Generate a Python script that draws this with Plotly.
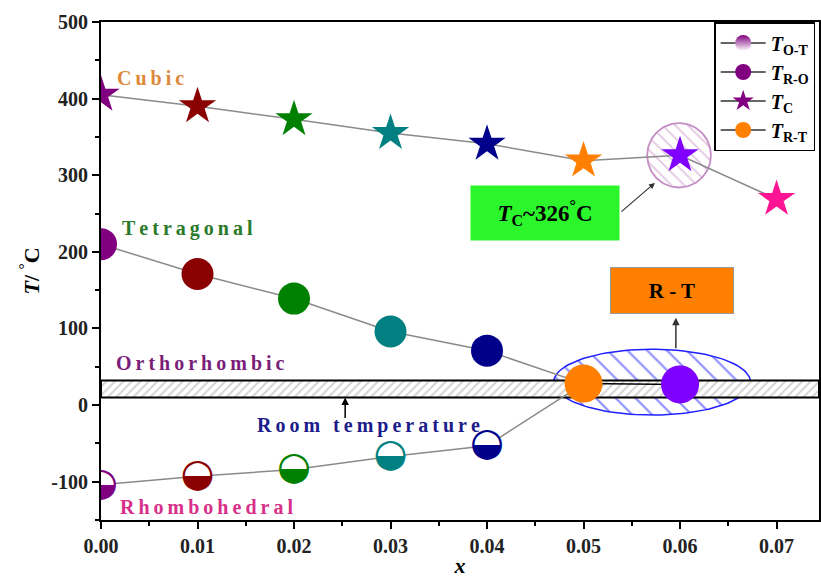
import numpy as np
import plotly.graph_objects as go

# ---------------- data ----------------
point_colors = ["#800080", "#8B0000", "#008000", "#008080", "#00008B",
                "#FF8000", "#8000FF", "#FF1493"]

tc_x = [0.00, 0.01, 0.02, 0.03, 0.04, 0.05, 0.06, 0.07]
tc_y = [405, 390, 373, 355, 341, 319, 326, 269]

tro_x = [0.00, 0.01, 0.02, 0.03, 0.04, 0.05]
tro_y = [210, 171, 139, 96, 71, 28]

tot_x = [0.00, 0.01, 0.02, 0.03, 0.04, 0.05]
tot_y = [-104, -93, -84, -67, -53, 28]

trt_x = [0.05, 0.06]
trt_y = [28, 27]

room_band = [10, 32]          # room temperature band (°C)
x_range = [0, 0.0744]
y_range = [-150, 500]

y_tickvals = [-100, 0, 100, 200, 300, 400, 500]
y_ticktext = ["-100", "0", "100", "200", "300", "400", "500"]
x_tickvals = [0.00, 0.01, 0.02, 0.03, 0.04, 0.05, 0.06, 0.07]
x_ticktext = ["0.00", "0.01", "0.02", "0.03", "0.04", "0.05", "0.06", "0.07"]

SERIF = "Liberation Serif"
GRAY = "#8a8a8a"

fig = go.Figure()


def ellipse(cx, cy, rx, ry, n=120):
    t = np.linspace(0, 2 * np.pi, n)
    return cx + rx * np.cos(t), cy + ry * np.sin(t)


# hatched ellipse around R-T region
ex, ey = ellipse(0.0571, 30, 0.0102, 43)
fig.add_trace(go.Scatter(x=ex, y=ey, mode="lines", fill="toself",
                         line=dict(color="#2020ff", width=1.5),
                         fillcolor="rgba(0,0,0,0)",
                         fillpattern=dict(shape="\\", fgcolor="#2020ff",
                                          bgcolor="rgba(0,0,0,0)",
                                          size=14, solidity=0.16),
                         showlegend=False, hoverinfo="skip"))
# hatched circle around Tc
cx_, cy_ = ellipse(0.0599, 326, 0.0033, 42)
fig.add_trace(go.Scatter(x=cx_, y=cy_, mode="lines", fill="toself",
                         line=dict(color="#c48ec4", width=1.8),
                         fillcolor="rgba(0,0,0,0)",
                         fillpattern=dict(shape="\\", fgcolor="#c48ec4",
                                          bgcolor="rgba(0,0,0,0)",
                                          size=9, solidity=0.2),
                         showlegend=False, hoverinfo="skip"))
# room temperature band
fig.add_trace(go.Scatter(x=[x_range[0], x_range[1], x_range[1], x_range[0], x_range[0]],
                         y=[room_band[0], room_band[0], room_band[1], room_band[1], room_band[0]],
                         mode="lines", fill="toself",
                         line=dict(color="black", width=2),
                         fillcolor="white",
                         fillpattern=dict(shape="/", fgcolor="#a8a8a8", bgcolor="white",
                                          size=6, solidity=0.35),
                         showlegend=False, hoverinfo="skip"))

# connecting lines
for xs, ys in [(tro_x, tro_y), (tot_x, tot_y), (tc_x, tc_y)]:
    fig.add_trace(go.Scatter(x=xs, y=ys, mode="lines",
                             line=dict(color=GRAY, width=1.5),
                             showlegend=False, hoverinfo="skip"))
fig.add_trace(go.Scatter(x=trt_x, y=trt_y, mode="lines",
                         line=dict(color="black", width=1.5),
                         showlegend=False, hoverinfo="skip"))

# Tc stars
fig.add_trace(go.Scatter(x=tc_x, y=tc_y, mode="markers",
                         marker=dict(symbol="star", size=28, color=point_colors[:len(tc_x)],
                                     line=dict(width=0)),
                         showlegend=False))
# T_R-O spheres
n_ro = len(tro_x) - 1
fig.add_trace(go.Scatter(x=tro_x[:n_ro], y=tro_y[:n_ro], mode="markers",
                         marker=dict(symbol="circle", size=32, color=point_colors[:n_ro],
                                     line=dict(width=0)),
                         showlegend=False))
# T_O-T half-filled circles
n_ot = len(tot_x) - 1
fig.add_trace(go.Scatter(x=tot_x[:n_ot], y=tot_y[:n_ot], mode="markers",
                         marker=dict(symbol="circle", size=27, color="white",
                                     line=dict(width=0)),
                         showlegend=False))
fig.add_trace(go.Scatter(x=tot_x[:n_ot], y=tot_y[:n_ot], mode="text",
                         text=["\u25D2"] * n_ot, textposition="middle center",
                         textfont=dict(family="DejaVu Sans", size=39,
                                       color=point_colors[:n_ot]),
                         showlegend=False))
# T_R-T big circles
fig.add_trace(go.Scatter(x=trt_x, y=trt_y, mode="markers",
                         marker=dict(symbol="circle", size=38, color=point_colors[5:7],
                                     line=dict(width=0)),
                         showlegend=False))

# legend-only traces
leg_font = "<b><i>T</i></b><sub><b>%s</b></sub>"
fig.add_trace(go.Scatter(x=[None], y=[None], mode="lines+markers", name=leg_font % "O-T",
                         line=dict(color="#333", width=1.5),
                         marker=dict(symbol="circle", size=16, color="#800080",
                                     gradient=dict(type="vertical", color="white"))))
fig.add_trace(go.Scatter(x=[None], y=[None], mode="lines+markers", name=leg_font % "R-O",
                         line=dict(color="#333", width=1.5),
                         marker=dict(symbol="circle", size=16, color="#800080")))
fig.add_trace(go.Scatter(x=[None], y=[None], mode="lines+markers", name=leg_font % "C",
                         line=dict(color="#333", width=1.5),
                         marker=dict(symbol="star", size=16, color="#800080")))
fig.add_trace(go.Scatter(x=[None], y=[None], mode="lines+markers", name=leg_font % "R-T",
                         line=dict(color="#333", width=1.5),
                         marker=dict(symbol="circle", size=16, color="#FF8000")))


def spaced(s):
    return "\u2009".join(list(s))


phase_labels = [("Cubic", 0.00516, 427, "#E0883A"),
                ("Tetragonal", 0.00898, 231, "#2A7A2A"),
                ("Orthorhombic", 0.01032, 55, "#7A1E7A"),
                ("Rhombohedral", 0.01094, -133, "#D8308A")]
annotations = []
for txt, ax_, ay_, col in phase_labels:
    annotations.append(dict(x=ax_, y=ay_, xref="x", yref="y", text="<b>%s</b>" % spaced(txt),
                            showarrow=False, font=dict(family=SERIF, size=20, color=col)))
# room temperature label + arrow
annotations.append(dict(x=0.0277, y=-27, xref="x", yref="y",
                        text="<b>%s</b>" % spaced("Room temperature"), showarrow=False,
                        font=dict(family=SERIF, size=20, color="#1C1C8A")))
annotations.append(dict(x=0.0253, y=room_band[0], xref="x", yref="y", text="",
                        showarrow=True, ax=0, ay=22, arrowhead=2, arrowsize=1,
                        arrowwidth=1.5, arrowcolor="black"))
# Tc box
annotations.append(dict(x=0.04605, y=251, xref="x", yref="y",
                        text="<b><i>T</i><sub>C</sub>~326<sup>°</sup>C</b>",
                        showarrow=False, bgcolor="#2BF52B", width=146, height=52,
                        font=dict(family=SERIF, size=23, color="black")))
annotations.append(dict(x=0.0574, y=290, xref="x", yref="y", text="",
                        showarrow=True, ax=-35, ay=30, arrowhead=2, arrowsize=1,
                        arrowwidth=1.2, arrowcolor="#333"))
# R-T box
annotations.append(dict(x=0.05916, y=150, xref="x", yref="y",
                        text="<b>R - T</b>", showarrow=False, bgcolor="#FF8000",
                        bordercolor="#999", borderwidth=1, width=120, height=43,
                        font=dict(family=SERIF, size=21, color="black")))
annotations.append(dict(x=0.05957, y=114, xref="x", yref="y", text="",
                        showarrow=True, ax=0, ay=32, arrowhead=2, arrowsize=1,
                        arrowwidth=1.5, arrowcolor="#333"))

tick_font = dict(family=SERIF, size=20, color="#222", weight="bold")

fig.update_layout(
    width=821, height=579,
    margin=dict(l=101, r=0, t=22, b=59),
    paper_bgcolor="white", plot_bgcolor="white",
    font=dict(family=SERIF, size=19, color="black"),
    annotations=annotations,
    legend=dict(x=0.854, y=1, xanchor="left", yanchor="top",
                bgcolor="white", bordercolor="black", borderwidth=1.5,
                font=dict(family=SERIF, size=20), tracegroupgap=0, itemwidth=45),
)
fig.update_xaxes(range=x_range, tickvals=x_tickvals, ticktext=x_ticktext,
                 ticks="outside", ticklen=7, tickwidth=1.5, tickcolor="black",
                 showline=True, linecolor="black", linewidth=2, mirror=True,
                 showgrid=False, zeroline=False, tickfont=tick_font,
                 minor=dict(dtick=0.005, tick0=0, ticks="outside", ticklen=4, tickcolor="black"),
                 title=dict(text="<b><i>x</i></b>", font=dict(family=SERIF, size=22), standoff=2))
fig.update_yaxes(range=y_range, tickvals=y_tickvals, ticktext=y_ticktext,
                 ticks="outside", ticklen=7, tickwidth=1.5, tickcolor="black",
                 showline=True, linecolor="black", linewidth=2, mirror=True,
                 showgrid=False, zeroline=False, tickfont=tick_font,
                 minor=dict(dtick=50, tick0=0, ticks="outside", ticklen=4, tickcolor="black"),
                 title=dict(text="<b><i>T</i>/ <sup>°</sup>C</b>", font=dict(family=SERIF, size=22),
                            standoff=6))

fig.write_html("out.html")
